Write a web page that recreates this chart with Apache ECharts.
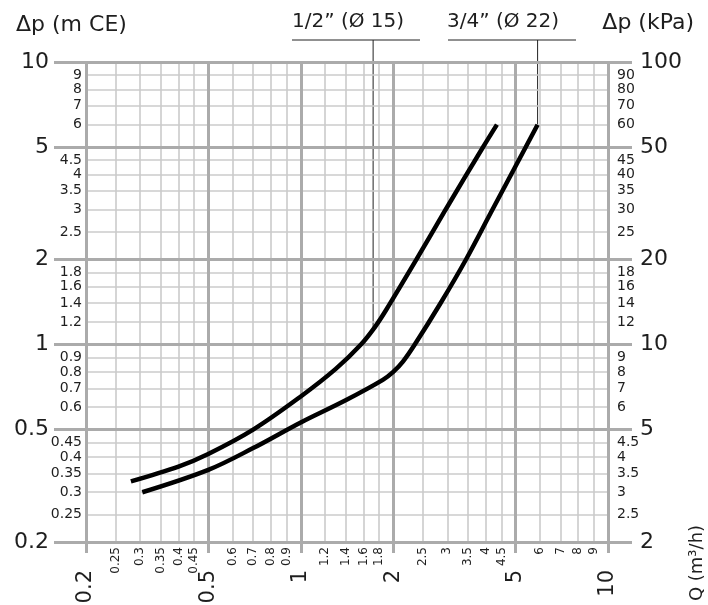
<!DOCTYPE html>
<html>
<head>
<meta charset="utf-8">
<script src="https://cdn.jsdelivr.net/npm/echarts@6/dist/echarts.min.js"></script>
<style>
html, body { margin: 0; padding: 0; background: #fff; }
#chart { width: 708px; height: 605px; }
</style>
</head>
<body>
<div id="chart"></div>
<script>
// flow rate Q (m3/h)
const qMajor = [0.2, 0.5, 1, 2, 5, 10];
const qMinor = [0.25, 0.3, 0.35, 0.4, 0.45, 0.6, 0.7, 0.8, 0.9, 1.2, 1.4, 1.6, 1.8, 2.5, 3, 3.5, 4, 4.5, 6, 7, 8, 9];
// pressure drop, m CE (left)
const mceMajor = [0.2, 0.5, 1, 2, 5, 10];
const mceMinor = [0.25, 0.3, 0.35, 0.4, 0.45, 0.6, 0.7, 0.8, 0.9, 1.2, 1.4, 1.6, 1.8, 2.5, 3, 3.5, 4, 4.5, 6, 7, 8, 9];
// pressure drop, kPa (right)
const kpaMajor = [2, 5, 10, 20, 50, 100];
const kpaMinor = [2.5, 3, 3.5, 4, 4.5, 6, 7, 8, 9, 12, 14, 16, 18, 25, 30, 35, 40, 45, 60, 70, 80, 90];

// 1/2" (Ø 15)
const q15 = [0.28, 0.4, 0.5, 0.7, 1, 1.3, 1.57, 1.75, 1.9, 2.38, 2.96, 3.9, 4.35];
const dp15 = [0.328, 0.37, 0.41, 0.5, 0.655, 0.82, 1.0, 1.16, 1.33, 2.0, 3.0, 4.95, 6.0];
// 3/4" (Ø 22)
const q22 = [0.305, 0.5, 0.7, 1, 1.4, 1.85, 2, 2.15, 2.35, 2.85, 3.45, 4.15, 5.4, 5.9];
const dp22 = [0.30, 0.36, 0.43, 0.53, 0.635, 0.75, 0.8, 0.87, 1.0, 1.4, 2.0, 2.92, 5.0, 6.0];

const seriesNames = ['1/2” (Ø 15)', '3/4” (Ø 22)'];
// where the label leaders touch the curves
const leaderQ = [1.72, 5.9];
const leaderDp = [1.13, 6.0];

const FONT = 'DejaVu Sans';
const TXT = '#1e1e1e';
const MAJOR = { color: '#ababab', width: 3 };
const MINOR = { color: '#cbcbcb', width: 1.6 };

const fmt = v => String(+(+v).toPrecision(6));

const chart = echarts.init(document.getElementById('chart'));

const label = (values, size, margin, extra) => Object.assign({
    customValues: values,
    formatter: fmt,
    fontSize: size,
    fontFamily: FONT,
    color: TXT,
    margin: margin,
    hideOverlap: false,
    showMinLabel: true,
    showMaxLabel: true
}, extra);

chart.setOption({
    animation: false,
    backgroundColor: '#fff',
    grid: { left: 86, right: 100, top: 62, bottom: 63, outerBoundsMode: 'none' },
    xAxis: [
        {
            type: 'log', min: 0.2, max: 10, position: 'bottom', z: 1,
            axisLine: { show: false },
            axisTick: { show: false, customValues: qMinor },
            splitLine: { show: true, lineStyle: MINOR },
            axisLabel: label(qMinor, 12, 5, { rotate: 90 })
        },
        {
            type: 'log', min: 0.2, max: 10, position: 'bottom', z: 2,
            axisLine: { show: false },
            axisTick: { show: true, customValues: qMajor, length: 11, lineStyle: MAJOR },
            splitLine: { show: true, lineStyle: MAJOR },
            axisLabel: label(qMajor, 21, 28, { rotate: 90 })
        }
    ],
    yAxis: [
        {
            type: 'log', min: 0.2, max: 10, position: 'left', z: 1,
            axisLine: { show: false },
            axisTick: { show: false, customValues: mceMinor },
            splitLine: { show: true, lineStyle: MINOR },
            axisLabel: label(mceMinor, 14, 4)
        },
        {
            type: 'log', min: 0.2, max: 10, position: 'left', z: 2,
            axisLine: { show: false },
            axisTick: { show: true, customValues: mceMajor, length: 32, lineStyle: MAJOR },
            splitLine: { show: true, lineStyle: MAJOR },
            axisLabel: label(mceMajor, 22, 37)
        },
        {
            type: 'log', min: 2, max: 100, position: 'right', z: 1,
            axisLine: { show: false },
            axisTick: { show: false, customValues: kpaMinor },
            splitLine: { show: false },
            axisLabel: label(kpaMinor, 14, 9)
        },
        {
            type: 'log', min: 2, max: 100, position: 'right', z: 2,
            axisLine: { show: false },
            axisTick: { show: true, customValues: kpaMajor, length: 24, lineStyle: MAJOR },
            splitLine: { show: false },
            axisLabel: label(kpaMajor, 22, 32)
        }
    ],
    series: [
        {
            name: seriesNames[0], type: 'line', xAxisIndex: 1, yAxisIndex: 1, z: 10,
            smooth: 0.35, showSymbol: false,
            lineStyle: { color: '#000', width: 4.5 },
            data: q15.map((q, i) => [q, dp15[i]])
        },
        {
            name: seriesNames[1], type: 'line', xAxisIndex: 1, yAxisIndex: 1, z: 10,
            smooth: 0.35, showSymbol: false,
            lineStyle: { color: '#000', width: 4.5 },
            data: q22.map((q, i) => [q, dp22[i]])
        }
    ]
});

// titles, leaders and the pipe-size labels
const p0 = chart.convertToPixel({ seriesIndex: 0 }, [leaderQ[0], leaderDp[0]]);
const p1 = chart.convertToPixel({ seriesIndex: 1 }, [leaderQ[1], leaderDp[1]]);
const lineStyle = { stroke: '#222', lineWidth: 1 };

chart.setOption({
    graphic: [
        { type: 'text', left: 16, top: 14, style: { text: 'Δp (m CE)', font: '22px "DejaVu Sans"', fill: TXT } },
        { type: 'text', right: 14, top: 12, style: { text: 'Δp (kPa)', font: '22px "DejaVu Sans"', fill: TXT } },
        {
            type: 'text', x: 697, y: 563, rotation: Math.PI / 2,
            style: { text: 'Q (m³/h)', font: '18px "DejaVu Sans"', fill: TXT, align: 'center', verticalAlign: 'middle' }
        },
        { type: 'text', x: 292, y: 22, style: { text: seriesNames[0], font: '20px "DejaVu Sans"', fill: TXT, verticalAlign: 'middle' } },
        { type: 'text', x: 447, y: 22, style: { text: seriesNames[1], font: '20px "DejaVu Sans"', fill: TXT, verticalAlign: 'middle' } },
        { type: 'line', shape: { x1: 292, y1: 40, x2: 420, y2: 40 }, style: lineStyle },
        { type: 'line', shape: { x1: 448, y1: 40, x2: 576, y2: 40 }, style: lineStyle },
        { type: 'line', shape: { x1: p0[0], y1: 40, x2: p0[0], y2: p0[1] }, style: lineStyle },
        { type: 'line', shape: { x1: p1[0], y1: 40, x2: p1[0], y2: p1[1] }, style: lineStyle }
    ]
});
</script>
</body>
</html>
